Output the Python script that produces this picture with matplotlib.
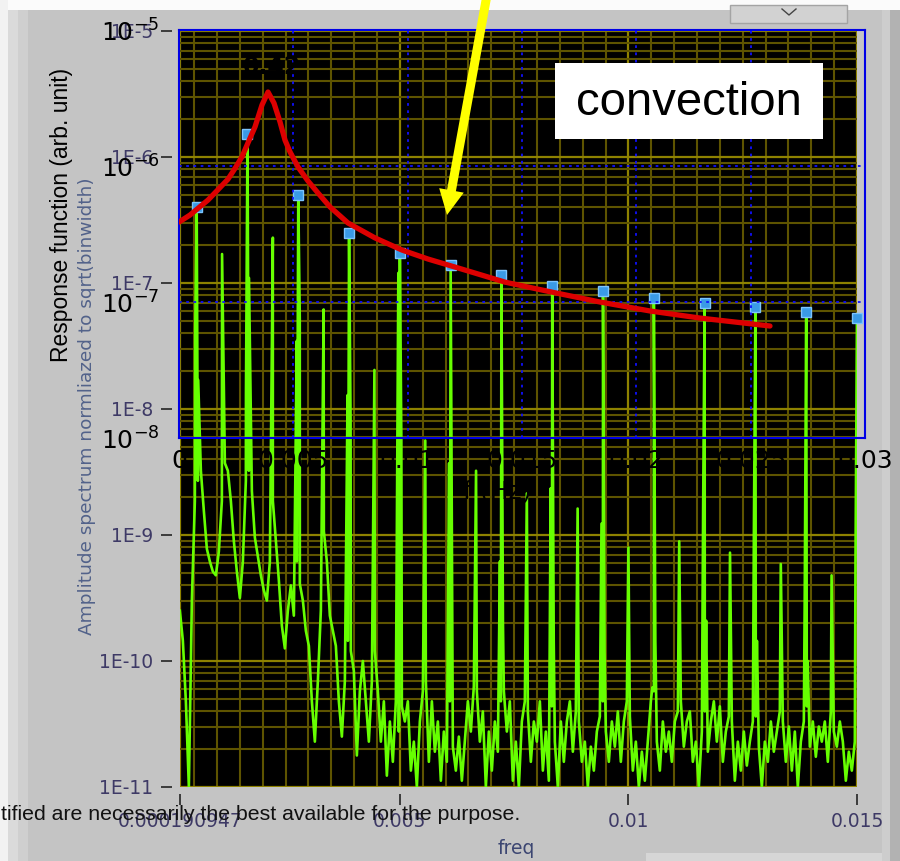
import numpy as np
import matplotlib.pyplot as plt
import matplotlib.patches as mpatches
import matplotlib.transforms as mtransforms
from matplotlib.lines import Line2D
from matplotlib.ticker import FixedLocator, FixedFormatter, MultipleLocator, LogLocator, FuncFormatter, NullLocator

W, H = 900, 861

# amplitude spectrum (log10 values), odd harmonics of the 1800 s excitation
odd_freq = np.array([0.000556, 0.001667, 0.002778, 0.003889, 0.005, 0.006111, 0.007222,
                     0.008333, 0.009444, 0.010556, 0.011667, 0.012778, 0.013889, 0.015])
odd_log = np.array([-6.40, -5.82, -6.30, -6.60, -6.76, -6.86, -6.94,
                    -7.02, -7.06, -7.12, -7.16, -7.19, -7.23, -7.28])
# levels of the steps just left / right of each odd line
odd_left_log = np.array([-7.40, -7.88, -7.46, -7.89, -6.92, -8.43, -9.21,
                         -8.63, -8.91, -10.21, -8.79, -8.94, -9.52, -9.21])
odd_right_log = np.array([-7.77, -6.96, -7.28, -8.09, -8.25, -9.52, -9.68,
                          -9.84, -9.92, -9.84, -9.68, -9.84, -10.00, -9.50])
# even harmonics
even_freq = np.array([0.001111, 0.002222, 0.003333, 0.004444, 0.005556, 0.006667, 0.007778,
                      0.008889, 0.01, 0.011111, 0.012222, 0.013333, 0.014444])
even_log = np.array([-6.77, -6.64, -7.21, -7.69, -8.25, -8.49, -8.67,
                     -8.79, -9.10, -9.05, -9.14, -9.23, -9.32])
# background between the lines, uniform bins
noise_f0 = 0.000188
noise_df = 6.562e-5
noise_log = np.array([
    -9.60, -9.84, -10.32, -11.0, -9.52, -8.73, -8.57, -8.49, -8.81, -9.11,
    -9.21, -9.29, -9.32, -9.13, -8.73, -8.43, -8.49, -8.73, -9.05, -9.29,
    -9.50, -9.21, -8.57, -8.49, -8.65, -9.02, -9.17, -9.32, -9.44, -9.52,
    -9.21, -8.73, -9.05, -9.36, -9.72, -9.90, -9.60, -9.40, -9.64, -9.21,
    -9.39, -9.52, -9.76, -9.88, -10.32, -10.64, -10.16, -9.60, -8.97, -9.21,
    -9.64, -9.76, -9.88, -10.32, -10.60, -10.16, -9.84, -9.92, -10.08, -10.75,
    -10.24, -10.00, -10.32, -10.64, -10.16, -9.92, -10.24, -10.64, -10.32, -10.91,
    -10.48, -10.80, -10.32, -10.56, -10.36, -10.48, -10.32, -10.87, -10.64, -11.0,
    -10.48, -10.24, -10.16, -10.80, -10.32, -10.72, -10.48, -10.95, -10.56, -10.80,
    -10.32, -10.68, -10.87, -10.60, -10.95, -10.64, -10.32, -10.56, -10.20, -10.24,
    -10.64, -10.40, -11.0, -10.56, -10.87, -10.48, -10.72, -10.32, -10.24, -10.56,
    -10.32, -10.95, -10.64, -11.0, -10.48, -10.32, -10.40, -10.80, -10.48, -10.64,
    -10.32, -10.87, -10.56, -10.95, -10.36, -10.64, -11.0, -10.48, -10.80, -10.48,
    -10.32, -10.72, -10.40, -10.48, -10.80, -10.64, -11.0, -10.68, -10.87, -10.56,
    -10.44, -10.32, -10.56, -10.80, -10.48, -10.68, -10.40, -10.80, -10.48, -10.32,
    -10.44, -10.87, -10.64, -11.0, -10.72, -10.95, -10.64, -10.32, -10.24, -10.64,
    -10.87, -10.48, -10.72, -10.56, -10.80, -10.48, -10.40, -10.32, -10.68, -10.48,
    -10.40, -10.80, -10.64, -11.0, -10.56, -10.40, -10.72, -10.48, -10.32, -10.64,
    -10.36, -10.80, -10.56, -10.44, -10.48, -10.95, -10.64, -10.87, -10.56, -10.83,
    -10.64, -10.48, -10.44, -10.68, -11.0, -10.64, -10.80, -10.48, -10.72, -10.56,
    -10.40, -10.48, -10.80, -10.52, -10.87, -10.56, -11.0, -10.64, -10.48, -10.36,
    -10.68, -10.48, -10.76, -10.52, -10.64, -10.48, -10.80, -10.40, -10.56, -10.68,
    -10.48, -10.64, -10.95, -10.72, -10.87, -10.64])

# response function of the model
resp_freq = [0.0, 0.000481, 0.001268, 0.001706, 0.002143, 0.002449, 0.002755, 0.003017,
             0.003324, 0.00363, 0.003892, 0.004155, 0.004417, 0.004636, 0.004854, 0.005204,
             0.005641, 0.006079, 0.006604, 0.007391, 0.008571, 0.009752, 0.010889, 0.012201,
             0.014257, 0.016224, 0.018411, 0.020598, 0.022784, 0.025845]
resp_amp = [3.87e-7, 4.36e-7, 5.62e-7, 6.70e-7, 8.00e-7, 9.60e-7, 1.17e-6, 1.48e-6,
            1.94e-6, 2.81e-6, 3.50e-6, 2.90e-6, 2.11e-6, 1.55e-6, 1.27e-6, 9.84e-7,
            7.76e-7, 6.33e-7, 5.00e-7, 3.81e-7, 2.96e-7, 2.41e-7, 2.07e-7, 1.78e-7,
            1.40e-7, 1.19e-7, 1.00e-7, 8.59e-8, 7.62e-8, 6.66e-8]

spec_xticks = [0.000190947, 0.005, 0.01, 0.015]
spec_xlabels = ['0.000190947', '0.005', '0.01', '0.015']
resp_xticks = [0, 0.005, 0.01, 0.015, 0.02, 0.025, 0.03]
resp_xlabels = ['0', '0.005', '0.01', '0.015', '0.02', '0.025', '0.03']
resp_yticks = [1e-8, 1e-7, 1e-6, 1e-5]
resp_ylabels = ['$10^{-8}$', '$10^{-7}$', '$10^{-6}$', '$10^{-5}$']


def box(x0, y0, x1, y1):
    return [x0 / W, 1 - y1 / H, (x1 - x0) / W, (y1 - y0) / H]


fig = plt.figure(figsize=(W / 100, H / 100), dpi=100)
fig.patch.set_facecolor('#c4c4c4')
pix = mtransforms.Affine2D().scale(1 / W, -1 / H).translate(0, 1) + fig.transFigure

# panel decoration
for x0, y0, w, h, c in [(0, 0, W, 10, '#fbfbfb'), (0, 0, 8, H, '#f2f2f2'),
                        (8, 10, 10, H, '#dadada'), (18, 10, 10, H, '#cfcfcf'),
                        (882, 10, 8, H, '#cdcdcd'), (890, 10, 10, H, '#b2b2b2'),
                        (646, 853, 236, 10, '#d6d6d6')]:
    fig.add_artist(mpatches.Rectangle((x0, y0), w, h, transform=pix, color=c, lw=0, zorder=-5))
fig.add_artist(mpatches.Rectangle((730, 5), 117, 18, transform=pix, facecolor='#d2d2d2',
                                  edgecolor='#a4a4a4', lw=1, zorder=-4))
fig.add_artist(Line2D([782, 789, 796], [9, 15, 9], transform=pix, color='#454545', lw=1))

# spectrum
ax = fig.add_axes(box(180, 31, 857, 787))
ax.set_facecolor('black')
ax.set_yscale('log')
ax.set_xlim(0.000190947, 0.015)
ax.set_ylim(1e-11, 1e-5)

noise_f = noise_f0 + noise_df * np.arange(len(noise_log))
side = 3.3e-5
f_all = np.concatenate([noise_f, odd_freq - side, odd_freq, odd_freq + side, even_freq])
l_all = np.concatenate([noise_log, odd_left_log, odd_log, odd_right_log, even_log])
order = np.argsort(f_all, kind='stable')
ax.plot(f_all[order], 10 ** l_all[order], color='#66ff00', lw=1.9, zorder=3)
ax.plot(odd_freq, 10 ** odd_log, 's', ms=7, mfc='#3a9ae6', mec='#7cc4ff', mew=1,
        clip_on=False, zorder=4)

ax.xaxis.set_major_locator(FixedLocator(spec_xticks))
ax.xaxis.set_major_formatter(FixedFormatter(spec_xlabels))
ax.xaxis.set_minor_locator(MultipleLocator(0.0005))
ax.yaxis.set_major_locator(FixedLocator([10.0 ** k for k in range(-11, -4)]))
ax.yaxis.set_major_formatter(FuncFormatter(lambda v, p: '1E%d' % round(np.log10(v))))
ax.yaxis.set_minor_locator(LogLocator(base=10, subs=np.arange(2, 10), numticks=20))
ax.set_axisbelow(True)
ax.grid(which='minor', color='#5e5400', lw=1.5)
ax.grid(which='major', color='#8e8200', lw=1.6)
for s in ax.spines.values():
    s.set_visible(False)
ax.spines['left'].set_position(('outward', 6))
ax.spines['bottom'].set_position(('outward', 5))
ax.tick_params(which='minor', length=0)
ax.tick_params(which='major', length=8, width=1.3, color='#303030', direction='out',
               labelsize=13.5, labelcolor='#3e3a66', pad=5)
fig.text(516 / W, 1 - 848 / H, 'freq', ha='center', va='center', fontsize=13.5, color='#3c4672')
fig.text(87 / W, 1 - 406 / H, 'Amplitude spectrum normliazed to sqrt(binwidth)', rotation=90,
         ha='center', va='center', fontsize=13.3, color='#52628a')

# response function overlay
ax2 = fig.add_axes(box(179, 30, 865, 438))
ax2.set_facecolor('none')
ax2.set_yscale('log')
ax2.set_xlim(0, 0.03)
ax2.set_ylim(1e-8, 1e-5)
ax2.plot(resp_freq, resp_amp, color='#dd0000', lw=3.8, solid_capstyle='round', zorder=5)
ax2.set_xticks(resp_xticks)
ax2.set_xticklabels(resp_xlabels)
ax2.set_yticks(resp_yticks)
ax2.set_yticklabels(resp_ylabels)
ax2.yaxis.set_minor_locator(NullLocator())
ax2.tick_params(length=0, labelsize=18, labelcolor='black')
ax2.tick_params(axis='y', pad=14)
ax2.tick_params(axis='x', pad=8)
ax2.grid(True, color='#1010ff', linestyle=(0, (1.5, 2.5)), lw=1.3)
for s in ax2.spines.values():
    s.set_color('#0000e6')
    s.set_linewidth(1.5)
ax2.text(0.00408, 5.3e-6, '0.42', ha='center', va='center', fontsize=17,
         fontweight='bold', color='black')
fig.text(497 / W, 1 - 492 / H, 'f (Hz)', ha='center', va='center', fontsize=18, color='black')
fig.text(62 / W, 1 - 215 / H, 'Response function (arb. unit)', rotation=90, ha='center',
         va='center', fontsize=16.5, family='Liberation Sans', color='black')

fig.text(1 / W, 1 - 815 / H, 'tified are necessarily the best available for the purpose.',
         ha='left', va='center', fontsize=15.3, family='Liberation Sans', color='#111111')

# annotation
fig.add_artist(mpatches.FancyArrow(487, -5, -40, 220, width=9, head_width=25, head_length=25,
                                   length_includes_head=True, transform=pix,
                                   color='#ffff00', lw=0, zorder=6))
fig.add_artist(mpatches.Rectangle((555, 63), 268, 76, transform=pix, color='white', lw=0, zorder=6))
fig.text(689 / W, 1 - 103 / H, 'convection', ha='center', va='center', fontsize=34,
         family='Liberation Sans', color='black', zorder=7)

fig.savefig('out.png', dpi=100, facecolor=fig.get_facecolor())
